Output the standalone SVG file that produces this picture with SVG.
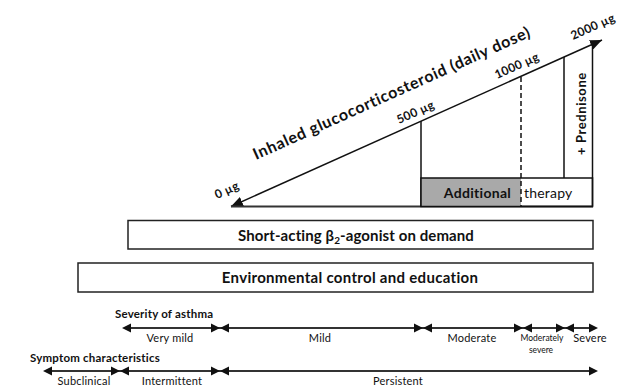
<svg xmlns="http://www.w3.org/2000/svg" width="631" height="390" viewBox="0 0 631 390">
<style>
text{font-family:Lato,"Open Sans","Liberation Sans",sans-serif;fill:#111}
.b{font-weight:bold}
.ln{stroke:#111;stroke-width:1.5;fill:none}
.ax{stroke:#333;stroke-width:2;fill:none}
.box{fill:#fff;stroke:#222;stroke-width:1.5}
.ah{fill:#111}
.lab{font-size:11px;letter-spacing:0.2px}
.dose{font-size:12px;font-weight:bold;letter-spacing:0.3px}
</style>
<defs>
<path id="ahR" class="ah" d="M0,0 L-9,-4.5 L-9,4.5 Z"/>
<path id="ahL" class="ah" d="M0,0 L9,-4.5 L9,4.5 Z"/>
<marker id="mE" viewBox="0 0 12 10" refX="12" refY="5" markerWidth="12" markerHeight="10" markerUnits="userSpaceOnUse" orient="auto-start-reverse">
<path d="M0,0 L12,5 L0,10 Z" fill="#111"/>
</marker>
</defs>
<rect width="631" height="390" fill="#fff"/>

<g id="connectors">
<line class="ln" x1="231" y1="206.5" x2="602" y2="40" marker-start="url(#mE)" marker-end="url(#mE)"/>
<line class="ax" x1="231" y1="206.5" x2="593" y2="206.5"/>
<line class="ln" x1="421" y1="121" x2="421" y2="206.5"/>
<line class="ln" x1="564" y1="57" x2="564" y2="178"/>
<line class="ln" x1="592.5" y1="44" x2="592.5" y2="206.5"/>
</g>

<g id="dose-labels">
<text class="b" font-size="16" letter-spacing="0.65" transform="translate(256,160) rotate(-24.17)">Inhaled glucocorticosteroid (daily dose)</text>
<text class="dose" transform="translate(217,199) rotate(-24.17)">0 µg</text>
<text class="dose" font-size="11" transform="translate(399,124) rotate(-24.17)">500 µg</text>
<text class="dose" transform="translate(497,79) rotate(-24.17)">1000 µg</text>
<text class="dose" transform="translate(573,40) rotate(-24.17)">2000 µg</text>
</g>

<g id="additional-therapy">
<rect x="421" y="178" width="100" height="28.5" fill="#a9a9a9"/>
<rect x="421" y="178" width="171.5" height="28.5" fill="none" stroke="#111" stroke-width="1.5"/>
<line x1="521" y1="77" x2="521" y2="206.5" stroke="#111" stroke-width="1.5" stroke-dasharray="5,3"/>
<text class="b" font-size="14" letter-spacing="0.3" x="477.5" y="197.5" text-anchor="middle">Additional</text>
<text font-size="14" letter-spacing="0.2" x="524" y="197.5">therapy</text>
</g>

<g id="prednisone">
<text class="b" font-size="13" letter-spacing="0.6" transform="translate(585.5,155) rotate(-90)">+ Prednisone</text>
</g>

<g id="short-acting">
<rect class="box" x="128" y="220.5" width="465" height="28.5"/>
<text class="b" font-size="15" letter-spacing="0.1" x="356" y="241" text-anchor="middle">Short-acting β<tspan font-size="10" dy="3">2</tspan><tspan dy="-3">-agonist on demand</tspan></text>
</g>

<g id="environmental">
<rect class="box" x="78" y="263" width="515" height="29"/>
<text class="b" font-size="15" letter-spacing="0.3" x="350" y="283" text-anchor="middle">Environmental control and education</text>
</g>

<g id="severity">
<text class="b" font-size="11.5" letter-spacing="0.2" x="115" y="318">Severity of asthma</text>
<line class="ax" x1="124" y1="328" x2="596" y2="328"/>
<use href="#ahL" x="122" y="328"/>
<use href="#ahR" x="220" y="328"/><use href="#ahL" x="220" y="328"/>
<use href="#ahR" x="423" y="328"/><use href="#ahL" x="423" y="328"/>
<use href="#ahR" x="523" y="328"/><use href="#ahL" x="523" y="328"/>
<use href="#ahR" x="565" y="328"/><use href="#ahL" x="565" y="328"/>
<use href="#ahR" x="598" y="328"/>
<text class="lab" x="170" y="342" text-anchor="middle">Very mild</text>
<text class="lab" x="320" y="342" text-anchor="middle">Mild</text>
<text class="lab" x="472" y="342" text-anchor="middle">Moderate</text>
<text font-size="8.5" x="542" y="341" text-anchor="middle">Moderately</text>
<text font-size="8.5" x="541" y="353" text-anchor="middle">severe</text>
<text class="lab" x="590" y="342" text-anchor="middle">Severe</text>
</g>

<g id="symptoms">
<text class="b" font-size="11.5" letter-spacing="0.2" x="30" y="362">Symptom characteristics</text>
<line class="ax" x1="45" y1="371" x2="596" y2="371"/>
<use href="#ahL" x="43" y="371"/>
<use href="#ahR" x="120" y="371"/><use href="#ahL" x="120" y="371"/>
<use href="#ahR" x="220" y="371"/><use href="#ahL" x="220" y="371"/>
<use href="#ahR" x="598" y="371"/>
<text class="lab" x="84" y="385" text-anchor="middle">Subclinical</text>
<text class="lab" x="172" y="385" text-anchor="middle">Intermittent</text>
<text class="lab" x="398" y="385" text-anchor="middle">Persistent</text>
</g>
</svg>
